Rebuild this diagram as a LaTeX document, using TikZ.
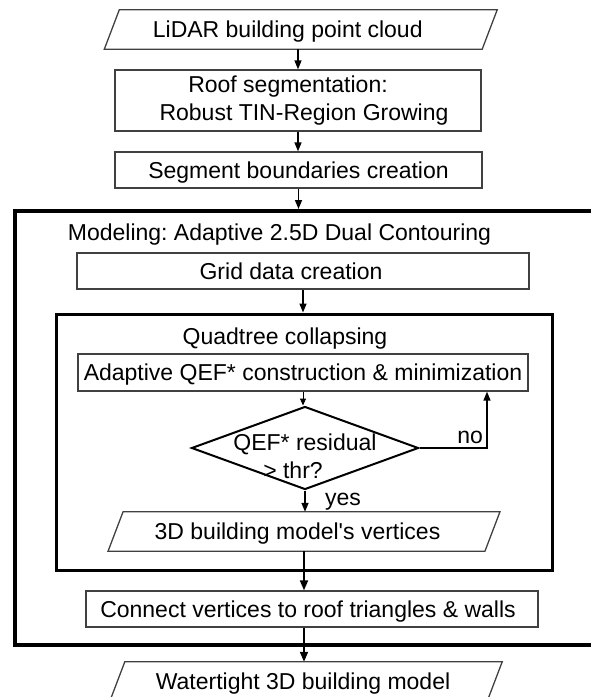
\documentclass[tikz,border=0pt]{standalone}
\usepackage{fontspec}
\setmainfont{Liberation Sans}
\usetikzlibrary{shapes.geometric,arrows.meta,calc}

\definecolor{boxgray}{gray}{0.25}

% parallelogram (input/output) drawn around a rectangular node
\newcommand\drawio[1]{%
  \draw[iodraw] ([xshift=7.5pt]#1.north west) -- ([xshift=7.5pt]#1.north east)
    -- ([xshift=-7.5pt]#1.south east) -- ([xshift=-7.5pt]#1.south west) -- cycle;}

\frenchspacing
\begin{document}
\begin{tikzpicture}[x=1pt,y=-1pt,
  font=\fontsize{23}{28}\selectfont\frenchspacing,
  oneline/.style={text height=16.5pt, text depth=0pt},
  stepbox/.style={draw=boxgray, line width=1.3pt, minimum height=36pt, inner sep=0pt},
  iobox/.style={oneline, inner sep=0pt, minimum height=39pt},
  iodraw/.style={draw=boxgray, line width=1.3pt, line join=miter},
  thickframe/.style={draw=black, inner sep=0pt},
  decision/.style={diamond, draw=black, line width=2pt, inner sep=0pt,
    minimum width=227pt, minimum height=83pt},
  flow/.style={draw=black, line width=1.4pt, -{Triangle[length=9pt,width=7pt]}},
  thinflow/.style={draw=black, line width=1pt, -{Triangle[length=7pt,width=6pt]}},
  thickflow/.style={draw=black, line width=1.8pt, -{Triangle[length=10pt,width=8pt]}},
]
\useasboundingbox (0,0) rectangle (590,697);

% pre-processing chain
\node[iobox, minimum width=377.5pt] (lidar) at (300.75,29.5)
  {\hspace*{-26pt}LiDAR building point cloud};
\drawio{lidar}
\node[stepbox, minimum width=366pt, minimum height=61pt, align=center] (roof) at (298,100.5)
  {\hspace*{-20pt}Roof segmentation:\\\hspace*{12pt}Robust TIN-Region Growing};
\node[stepbox, oneline, minimum width=367pt] (seg) at (298.5,170) {Segment boundaries creation};

% modeling stage
\node[thickframe, line width=4pt, minimum width=590pt, minimum height=434pt] (model) at (310,428) {};
\node[oneline] (modlabel) at (279.5,232) {Modeling: Adaptive 2.5D Dual Contouring};
\node[stepbox, oneline, minimum width=452pt] (grid) at (303,271)
  {\hspace*{-24pt}Grid data creation};

% quadtree collapsing loop
\node[thickframe, line width=3pt, minimum width=496pt, minimum height=256pt] (quad) at (304,442) {};
\node[oneline] (quadlabel) at (285,336) {Quadtree collapsing};
\node[stepbox, oneline, minimum width=450pt, minimum height=37pt] (qef) at (303,372.5)
  {Adaptive QEF* construction \& minimization};
\node[decision, label={[align=center, yshift=-8pt]center:QEF* residual\\\hspace*{-24pt}> thr?}]
  (dec) at (305,448) {};
\node[iobox, minimum width=376.5pt] (verts) at (304,531.5)
  {\hspace*{-13pt}3D building model\textquotesingle s vertices};
\drawio{verts}

\node[stepbox, oneline, minimum width=452pt] (conn) at (312,609)
  {\hspace*{-8pt}Connect vertices to roof triangles \& walls};
\node[iobox, minimum width=377pt] (water) at (306,681.5)
  {\hspace*{-6pt}Watertight 3D building model};
\drawio{water}

% connectors
\draw[flow] (roof.north |- lidar.south) -- (roof.north);
\draw[flow] (roof.south) -- (roof.south |- seg.north);
\draw[flow] (seg.south) -- (seg.south |- model.north);
\draw[flow] (grid.south) -- (grid.south |- quad.north);
\draw[thinflow] (qef.south) -- (qef.south |- dec.north);
\coordinate (noturn) at (487,448);
\draw[flow] (dec.east) -- node[pos=0.75, anchor=base, yshift=5pt] {no} (noturn) -- (noturn |- qef.south);
\draw[flow] (dec.south) -- (dec.south |- verts.north)
  node[anchor=base west, xshift=16pt, yshift=6pt] {yes};
\draw[thickflow] (verts.south) -- (verts.south |- conn.north);
\draw[thickflow] (verts.south |- conn.south) -- (verts.south |- water.north);
\end{tikzpicture}
\end{document}
